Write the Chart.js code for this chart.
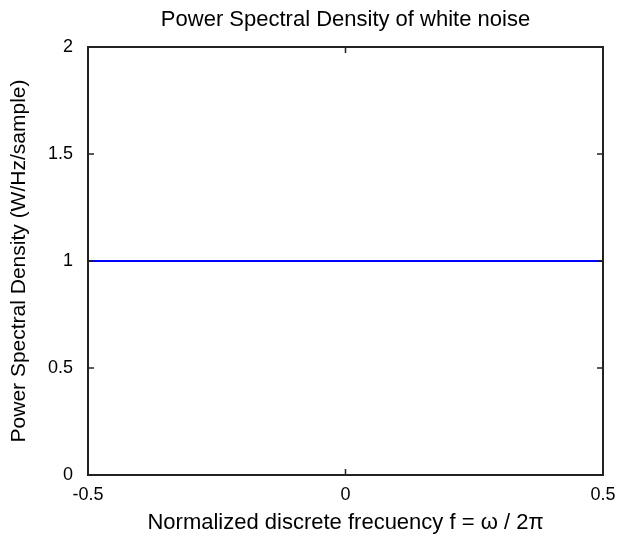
<!DOCTYPE html>
<html>
<head>
<meta charset="utf-8">
<script src="https://cdn.jsdelivr.net/npm/chart.js@4"></script>
<style>
  html, body { margin: 0; padding: 0; background: #fff; }
  #wrap { width: 619px; height: 540px; }
</style>
</head>
<body>
<div id="wrap"><canvas id="psd" width="619" height="540"></canvas></div>
<script>
// flat spectrum of white noise over one normalized period
const freqs = [-0.5, 0.5];
const psd = [1, 1];
const xTicks = [-0.5, 0, 0.5];
const yTicks = [0, 0.5, 1, 1.5, 2];

const FONT = '"Liberation Sans", Arial, sans-serif';
const axisColor = '#222222';

// matlab-style box with inward ticks on all four sides
const boxTicks = {
  id: 'boxTicks',
  afterDatasetsDraw(chart) {
    const { ctx, chartArea: a, scales: { x, y } } = chart;
    const len = 6;
    ctx.save();
    ctx.strokeStyle = axisColor;
    ctx.lineWidth = 1.5;
    ctx.beginPath();
    xTicks.forEach(v => {
      const px = x.getPixelForValue(v);
      ctx.moveTo(px, a.bottom); ctx.lineTo(px, a.bottom - len);
      ctx.moveTo(px, a.top); ctx.lineTo(px, a.top + len);
    });
    yTicks.forEach(v => {
      const py = y.getPixelForValue(v);
      ctx.moveTo(a.left, py); ctx.lineTo(a.left + len, py);
      ctx.moveTo(a.right, py); ctx.lineTo(a.right - len, py);
    });
    ctx.stroke();
    ctx.lineWidth = 2;
    ctx.strokeRect(a.left, a.top, a.right - a.left, a.bottom - a.top);
    ctx.restore();
  }
};

new Chart(document.getElementById('psd'), {
  type: 'line',
  data: {
    datasets: [{
      data: freqs.map((f, i) => ({ x: f, y: psd[i] })),
      borderColor: '#0000ff',
      borderWidth: 2,
      pointRadius: 0,
      tension: 0,
    }],
  },
  options: {
    responsive: false,
    animation: false,
    layout: { padding: { top: 0, right: 16, left: 0, bottom: 0 } },
    scales: {
      x: {
        type: 'linear', min: -0.5, max: 0.5,
        afterBuildTicks: (s) => { s.ticks = xTicks.map(v => ({ value: v })); },
        // fixed axis height; let the end labels hang into the margins
        afterFit: (s) => { s.height = 65; s.paddingLeft = 0; s.paddingRight = 0; },
        grid: { drawOnChartArea: false, drawTicks: false },
        border: { display: false },
        ticks: { color: '#000', font: { family: FONT, size: 18, lineHeight: 1.2 }, padding: 9, maxRotation: 0, callback: v => String(v) },
        title: { display: true, text: 'Normalized discrete frecuency f = ω / 2π', color: '#000', font: { family: FONT, size: 22, lineHeight: 1.2 }, padding: { top: 4, bottom: 4 } },
      },
      y: {
        min: 0, max: 2,
        afterBuildTicks: (s) => { s.ticks = yTicks.map(v => ({ value: v })); },
        afterFit: (s) => { s.width = 88; },
        grid: { drawOnChartArea: false, drawTicks: false },
        border: { display: false },
        ticks: { color: '#000', font: { family: FONT, size: 18, lineHeight: 1.2 }, padding: 15, callback: v => String(v) },
        title: { display: true, text: 'Power Spectral Density (W/Hz/sample)', color: '#000', font: { family: FONT, size: 21, lineHeight: 1.2 }, padding: { top: 7, bottom: 7 } },
      },
    },
    plugins: {
      legend: { display: false },
      tooltip: { enabled: false },
      // centred over the plot box rather than the whole canvas
      title: { display: true, fullSize: false, text: 'Power Spectral Density of white noise', color: '#000', font: { family: FONT, size: 22, weight: 'normal', lineHeight: 1.2 }, padding: { top: 7, bottom: 13.6 } },
    },
  },
  plugins: [boxTicks],
});
</script>
</body>
</html>
